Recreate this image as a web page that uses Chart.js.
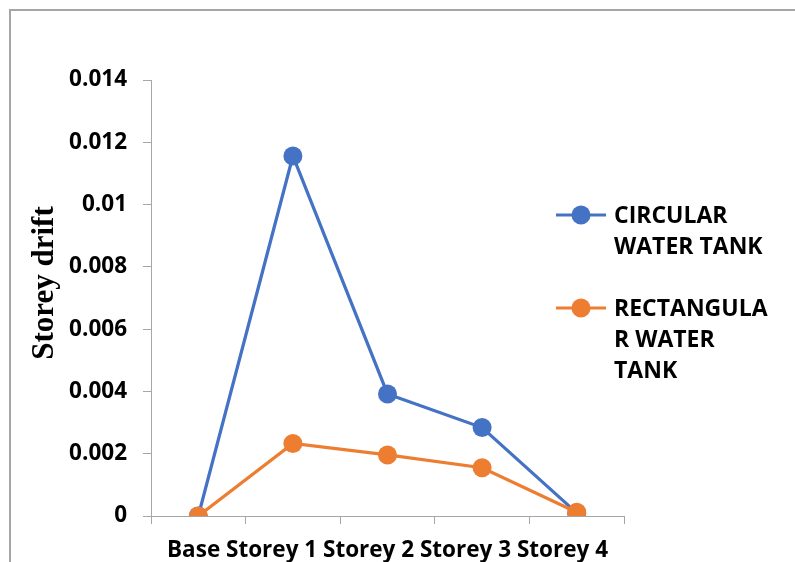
<!DOCTYPE html>
<html>
<head>
<meta charset="utf-8">
<title>Storey drift</title>
<script src="https://cdn.jsdelivr.net/npm/chart.js@4/dist/chart.umd.min.js"></script>
<style>
  html, body { margin: 0; padding: 0; background: #fff; }
  #wrap { position: relative; width: 795px; height: 562px; overflow: hidden; }
  canvas { display: block; }
</style>
</head>
<body>
<div id="wrap"><canvas id="drift" width="795" height="562"></canvas></div>
<script>
// Storey levels along the horizontal axis
const categories = ['Base', 'Storey 1', 'Storey 2', 'Storey 3', 'Storey 4'];

// Storey drift per level
const circularTank = [0, 0.01156, 0.00392, 0.00284, 0.0001];
const rectangularTank = [0, 0.00233, 0.00196, 0.00155, 0.00012];

// Series names and how they wrap in the legend
const seriesNames = ['CIRCULAR WATER TANK', 'RECTANGULAR WATER TANK'];
const legendLines = [['CIRCULAR', 'WATER TANK'], ['RECTANGULA', 'R WATER', 'TANK']];

// Vertical axis
const yTickLabels = ['0', '0.002', '0.004', '0.006', '0.008', '0.01', '0.012', '0.014'];
const yTitle = 'Storey drift';

const BLUE = '#4472C4';
const ORANGE = '#ED7D31';
const AXIS = '#A6A6A6';
const LABEL_FONT = '"Open Sans", "Noto Sans", sans-serif';

// Outer frame, rotated y title and the wrapped legend
const decorations = {
  id: 'decorations',
  beforeDraw(chart) {
    const ctx = chart.ctx;
    ctx.save();
    ctx.fillStyle = '#fff';
    ctx.fillRect(0, 0, chart.width, chart.height);
    ctx.fillStyle = AXIS;
    ctx.fillRect(9, 9, 2, chart.height - 9);
    ctx.fillRect(9, 9, chart.width - 9, 2);
    ctx.restore();
  },
  afterDraw(chart) {
    const ctx = chart.ctx;
    ctx.save();
    // y axis title
    ctx.translate(53, 283);
    ctx.rotate(-Math.PI / 2);
    ctx.font = 'bold 31px "Liberation Serif", "Times New Roman", serif';
    ctx.fillStyle = '#000';
    ctx.textAlign = 'center';
    ctx.textBaseline = 'alphabetic';
    ctx.fillText(yTitle, 0, 0);
    ctx.restore();

    // legend
    const rowY = [215, 308];
    chart.data.datasets.forEach((ds, i) => {
      const y = rowY[i];
      ctx.save();
      ctx.strokeStyle = ds.borderColor;
      ctx.lineWidth = 3;
      ctx.beginPath();
      ctx.moveTo(556, y);
      ctx.lineTo(606, y);
      ctx.stroke();
      ctx.fillStyle = ds.backgroundColor;
      ctx.beginPath();
      ctx.arc(581, y, 9.5, 0, Math.PI * 2);
      ctx.fill();
      ctx.fillStyle = '#000';
      ctx.font = 'bold 23px ' + LABEL_FONT;
      ctx.textAlign = 'left';
      ctx.textBaseline = 'middle';
      legendLines[i].forEach((line, k) => {
        ctx.fillText(line, 614, y + 1 + k * 31);
      });
      ctx.restore();
    });
  }
};

new Chart(document.getElementById('drift'), {
  type: 'line',
  data: {
    labels: categories,
    datasets: [
      {
        label: seriesNames[0],
        data: circularTank,
        borderColor: BLUE,
        backgroundColor: BLUE,
        pointBackgroundColor: BLUE,
        pointBorderColor: BLUE,
        borderWidth: 3.25,
        pointRadius: 9.5,
        pointBorderWidth: 0,
        pointHoverRadius: 9.5,
        tension: 0,
        order: 1
      },
      {
        label: seriesNames[1],
        data: rectangularTank,
        borderColor: ORANGE,
        backgroundColor: ORANGE,
        pointBackgroundColor: ORANGE,
        pointBorderColor: ORANGE,
        borderWidth: 3.25,
        pointRadius: 9.5,
        pointBorderWidth: 0,
        pointHoverRadius: 9.5,
        tension: 0,
        order: 0
      }
    ]
  },
  options: {
    responsive: false,
    animation: false,
    events: [],
    layout: { padding: { left: 0, right: 171, top: 80, bottom: 0 } },
    plugins: {
      legend: { display: false },
      tooltip: { enabled: false },
      title: { display: false }
    },
    scales: {
      x: {
        type: 'category',
        offset: true,
        grid: {
          offset: true,
          drawOnChartArea: false,
          drawTicks: true,
          tickLength: 8,
          color: AXIS,
          tickColor: AXIS,
          lineWidth: 1
        },
        border: { display: true, color: AXIS, width: 1 },
        ticks: { display: false },
        title: {
          display: true,
          text: categories.join(' '),
          color: '#000',
          font: { family: LABEL_FONT, size: 22.5, weight: 'bold', lineHeight: 1 },
          padding: { top: 0, bottom: 0 }
        },
        afterFit(scale) { scale.height = 46; }
      },
      y: {
        min: 0,
        max: 0.014,
        ticks: {
          stepSize: 0.002,
          color: '#000',
          padding: 16,
          font: { family: LABEL_FONT, size: 22.5, weight: 'bold' },
          callback: (value, index) => yTickLabels[index]
        },
        grid: {
          drawOnChartArea: false,
          drawTicks: true,
          tickLength: 8,
          color: AXIS,
          tickColor: AXIS,
          lineWidth: 1
        },
        border: { display: true, color: AXIS, width: 1 },
        afterFit(scale) { scale.width = 151; }
      }
    }
  },
  plugins: [decorations]
});
</script>
</body>
</html>
